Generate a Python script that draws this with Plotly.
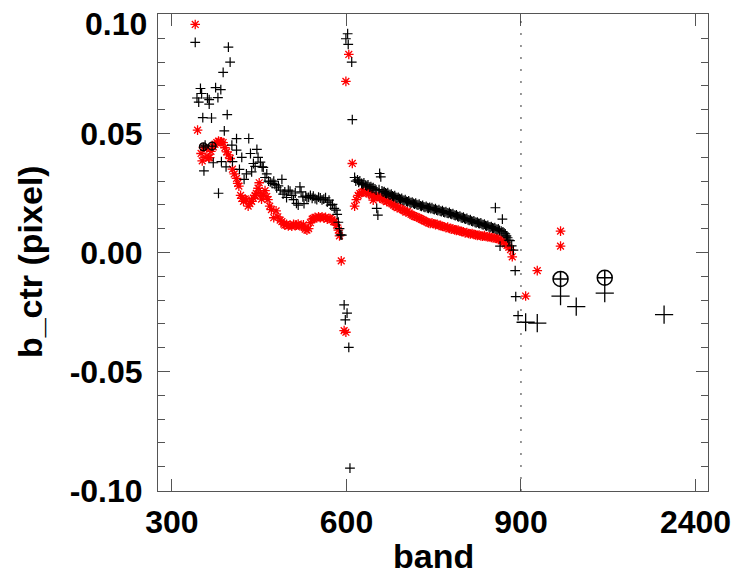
import plotly.graph_objects as go

# ---------------- data ----------------
# black "+" series (VNIR), band (nm) and b_ctr (pixel)
black_band = [340, 343, 346, 349, 351, 353, 355, 357, 361, 364, 364, 368, 371, 375, 379, 380,
              384, 385, 388, 390, 393, 395, 397, 400, 403, 404, 411, 411, 416, 420, 424, 428,
              432, 435, 437, 440, 443, 446, 448, 452, 455, 457, 460, 463, 466, 469, 472, 475,
              477, 480, 483, 486, 489, 491, 494, 497, 500, 503, 506, 509, 512, 514, 517, 520,
              522, 525, 527, 530, 532, 535, 538, 541, 543, 546, 549, 552, 555, 558, 561, 564,
              567, 570, 573, 576, 579, 582, 584, 586, 588, 590, 592,
              596, 598, 599, 601, 602, 603, 604, 606, 609, 610,
              614, 616, 619, 621, 623, 626, 628, 630, 633, 635, 637, 640, 642, 644, 646, 649,
              651, 652, 654, 656, 657, 659, 661, 663, 665, 667, 669, 671, 673, 675, 677, 679,
              681, 683, 685, 687, 689, 691, 693, 695, 697, 699, 701, 703, 705, 707, 709, 711,
              713, 715, 717, 719, 721, 723, 725, 727, 729, 731, 733, 735, 737, 739, 741, 743,
              745, 747, 749, 751, 753, 755, 757, 759, 761, 763, 765, 767, 769, 771, 773, 775,
              777, 779, 781, 783, 785, 787, 789, 791, 793, 795, 797, 799, 801, 803, 805, 807,
              809, 811, 813, 815, 817, 819, 821, 823, 825, 827, 829, 831, 833, 835, 837, 839,
              841, 843, 845, 847, 849, 851, 853, 855, 856, 857, 859, 861, 863, 864, 866, 868,
              869, 871, 873, 875, 877, 879, 881, 884, 887, 890, 891, 895]
black_val = [0.0883, 0.0649, 0.0632, 0.0689, 0.0668, 0.0567, 0.0343, 0.0451, 0.0649, 0.0642, 0.0623, 0.0565, 0.0377, 0.0693, 0.0651, 0.0249,
             0.0684, 0.0382, 0.0757, 0.0511, 0.0360, 0.0579, 0.0863, 0.0800, 0.0451, 0.0382, 0.0478, 0.0430, 0.0349, 0.0400, 0.0307, 0.0330,
             0.0479, 0.0416, 0.0339, 0.0374, 0.0362, 0.0433, 0.0400, 0.0380, 0.0360, 0.0358, 0.0315, 0.0330, 0.0300, 0.0297, 0.0290, 0.0300,
             0.0286, 0.0272, 0.0280, 0.0262, 0.0307, 0.0245, 0.0255, 0.0231, 0.0262, 0.0258, 0.0240, 0.0222, 0.0250, 0.0206, 0.0199, 0.0276,
             0.0255, 0.0234, 0.0205, 0.0237, 0.0230, 0.0232, 0.0240, 0.0228, 0.0237, 0.0226, 0.0222, 0.0233, 0.0229, 0.0221, 0.0224, 0.0230,
             0.0212, 0.0220, 0.0199, 0.0202, 0.0185, 0.0178, 0.0160, 0.0127, 0.0100, 0.0074, 0.0073,
             -0.0220, -0.0283, 0.0898, -0.0255, 0.0919, 0.0874, -0.0399, -0.0906, 0.0800, 0.0558,
             0.0315, 0.0300, 0.0305, 0.0295, 0.0301, 0.0290, 0.0286, 0.0292, 0.0283, 0.0279, 0.0284, 0.0275, 0.0277, 0.0270, 0.0272, 0.0267,
             0.0262, 0.0185, 0.0157, 0.0264, 0.0332, 0.0318, 0.0259, 0.0254, 0.0256, 0.0250, 0.0247, 0.0251, 0.0244, 0.0241, 0.0245, 0.0238,
             0.0235, 0.0239, 0.0231, 0.0228, 0.0232, 0.0226, 0.0223, 0.0227, 0.0220, 0.0218, 0.0222, 0.0215, 0.0213, 0.0217, 0.0210, 0.0208,
             0.0212, 0.0206, 0.0203, 0.0207, 0.0201, 0.0199, 0.0203, 0.0196, 0.0194, 0.0198, 0.0192, 0.0190, 0.0194, 0.0188, 0.0186, 0.0190,
             0.0184, 0.0188, 0.0182, 0.0180, 0.0184, 0.0178, 0.0176, 0.0180, 0.0174, 0.0172, 0.0176, 0.0170, 0.0168, 0.0172, 0.0166, 0.0164,
             0.0168, 0.0162, 0.0160, 0.0163, 0.0157, 0.0155, 0.0158, 0.0152, 0.0150, 0.0153, 0.0147, 0.0145, 0.0148, 0.0142, 0.0140, 0.0143,
             0.0137, 0.0135, 0.0138, 0.0132, 0.0130, 0.0133, 0.0127, 0.0125, 0.0128, 0.0122, 0.0121, 0.0124, 0.0118, 0.0116, 0.0119, 0.0113,
             0.0111, 0.0114, 0.0108, 0.0106, 0.0109, 0.0103, 0.0101, 0.0104, 0.0188, 0.0098, 0.0096, 0.0099, 0.0093, 0.0027, 0.0090, 0.0140,
             0.0087, 0.0082, 0.0078, 0.0070, 0.0062, 0.0052, 0.0050, 0.0028, 0.0010, -0.0076, -0.0185, -0.0265]

# red "*" series
red_band = [340, 344, 350, 352, 354, 357, 360, 363, 365, 367, 371, 374, 377, 380, 383, 385,
            388, 391, 394, 397, 400, 404, 407, 411, 413, 415, 418, 420, 423, 426, 428, 431,
            434, 437, 440, 443, 445, 448, 450, 452, 454, 457, 460, 463, 465, 468, 471, 475,
            479, 482, 486, 489, 492, 494, 497, 500, 503, 506, 509, 512, 514, 517, 520, 523,
            526, 529, 532, 535, 538, 541, 543, 546, 549, 552, 555, 558, 561, 564, 567, 570,
            572, 575, 578, 580, 583, 586, 588, 591,
            596, 599, 599, 604, 610,
            614, 617, 620, 623, 626, 629, 632, 635, 638, 641, 644, 646, 648, 651, 654, 657,
            660, 663, 666, 669, 672, 675, 678, 681, 684, 687, 690, 693, 696, 699, 702, 705,
            708, 711, 714, 717, 720, 723, 726, 729, 732, 735, 738, 741, 744, 747, 750, 753,
            756, 759, 762, 765, 768, 771, 774, 777, 780, 783, 786, 789, 792, 795, 798, 801,
            804, 807, 810, 813, 816, 819, 822, 825, 828, 831, 834, 837, 840, 843, 846, 849,
            852, 855, 858, 861, 864, 867, 870, 873, 876, 879, 882, 885]
red_val = [0.0958, 0.0514, 0.0416, 0.0385, 0.0441, 0.0400, 0.0435, 0.0398, 0.0399, 0.0425, 0.0444, 0.0455, 0.0462, 0.0468, 0.0465, 0.0465,
           0.0462, 0.0440, 0.0423, 0.0410, 0.0395, 0.0350, 0.0330, 0.0311, 0.0290, 0.0279, 0.0240, 0.0227, 0.0215, 0.0225, 0.0220, 0.0195,
           0.0205, 0.0215, 0.0228, 0.0240, 0.0248, 0.0270, 0.0293, 0.0250, 0.0224, 0.0240, 0.0260, 0.0235, 0.0222, 0.0195, 0.0180, 0.0146,
           0.0175, 0.0150, 0.0136, 0.0130, 0.0120, 0.0115, 0.0118, 0.0112, 0.0115, 0.0110, 0.0118, 0.0113, 0.0115, 0.0120, 0.0112, 0.0110,
           0.0116, 0.0098, 0.0094, 0.0100, 0.0125, 0.0140, 0.0143, 0.0148, 0.0145, 0.0150, 0.0146, 0.0150, 0.0145, 0.0148, 0.0140, 0.0143,
           0.0143, 0.0138, 0.0130, 0.0129, 0.0115, 0.0094, 0.0070, -0.0035,
           -0.0328, -0.0335, 0.0719, 0.0832, 0.0374,
           0.0195, 0.0222, 0.0240, 0.0248, 0.0252, 0.0255, 0.0256, 0.0250, 0.0247, 0.0252, 0.0238, 0.0220, 0.0232, 0.0238, 0.0234, 0.0229,
           0.0231, 0.0222, 0.0220, 0.0214, 0.0217, 0.0208, 0.0205, 0.0199, 0.0194, 0.0188, 0.0190, 0.0184, 0.0180, 0.0176, 0.0170, 0.0172,
           0.0166, 0.0160, 0.0156, 0.0152, 0.0150, 0.0147, 0.0143, 0.0139, 0.0136, 0.0132, 0.0129, 0.0124, 0.0122, 0.0125, 0.0121, 0.0117,
           0.0119, 0.0114, 0.0113, 0.0110, 0.0108, 0.0104, 0.0107, 0.0101, 0.0098, 0.0100, 0.0095, 0.0093, 0.0094, 0.0090, 0.0088, 0.0087,
           0.0082, 0.0084, 0.0080, 0.0078, 0.0080, 0.0076, 0.0074, 0.0072, 0.0073, 0.0070, 0.0068, 0.0071, 0.0067, 0.0065, 0.0066, 0.0063,
           0.0061, 0.0062, 0.0059, 0.0055, 0.0056, 0.0050, 0.0044, 0.0036, 0.0030, 0.0022, 0.0012, -0.0018]

# SWIR bands (large symbols)
swir_black_band = [940, 1040, 1240, 1375, 1620, 2130]
swir_black_val = [-0.0293, -0.0297, -0.0183, -0.0227, -0.0171, -0.0261]
swir_red_band = [940, 1040, 1240, 1240]
swir_red_val = [-0.0183, -0.0076, 0.0090, 0.0027]
circ_big_band = [1240, 1620]
circ_big_val = [-0.0111, -0.0106]
circ_small_band = [354, 369]
circ_small_val = [0.0444, 0.0447]

tick_bands = [300, 600, 900, 2400]
tick_labels = ["300", "600", "900", "2400"]
y_ticks = [-0.10, -0.05, 0.00, 0.05, 0.10]
y_labels = ["-0.10", "-0.05", "0.00", "0.05", "0.10"]


# axis is linear up to 900 nm, then 900-2400 nm compressed into 300 units
def to_axis(b):
    return b if b <= 900 else 900 + (b - 900) * 300.0 / 1500.0


def tx(lst):
    return [to_axis(b) for b in lst]


fig = go.Figure()
fig.add_trace(go.Scatter(x=tx(red_band), y=red_val, mode="markers",
                         marker=dict(symbol="asterisk", size=8, color="red",
                                     line=dict(color="red", width=1.3))))
fig.add_trace(go.Scatter(x=tx(black_band), y=black_val, mode="markers",
                         marker=dict(symbol="cross-thin", size=7, color="black",
                                     line=dict(color="black", width=1.2))))
fig.add_trace(go.Scatter(x=tx(swir_red_band), y=swir_red_val, mode="markers",
                         marker=dict(symbol="asterisk", size=8, color="red",
                                     line=dict(color="red", width=1.3))))
fig.add_trace(go.Scatter(x=tx(swir_black_band), y=swir_black_val, mode="markers",
                         marker=dict(symbol="cross-thin", size=13, color="black",
                                     line=dict(color="black", width=1.3))))
fig.add_trace(go.Scatter(x=tx(circ_big_band), y=circ_big_val, mode="markers",
                         marker=dict(symbol="circle-cross-open", size=15, color="black",
                                     line=dict(color="black", width=1.5))))
fig.add_trace(go.Scatter(x=tx(circ_small_band), y=circ_small_val, mode="markers",
                         marker=dict(symbol="circle-cross-open", size=8, color="black",
                                     line=dict(color="black", width=1.2))))

fig.add_shape(type="line", xref="x", yref="paper", x0=900, x1=900, y0=0, y1=1,
              line=dict(color="#333333", width=1, dash="2px,10px"))

tick_font = dict(family="Liberation Sans, Arial, sans-serif", size=32, color="black", weight="bold")

# top label drawn separately (placed just below its tick, as in the reference)
y_ticktext = [lab if v != 0.10 else "" for v, lab in zip(y_ticks, y_labels)]

fig.update_xaxes(range=[276, 1221.5], tickvals=tx(tick_bands), ticktext=tick_labels,
                 ticks="inside", ticklen=12, tickcolor="#555555", tickwidth=1,
                 showline=True, linecolor="#555555", linewidth=1, mirror="ticks",
                 showgrid=False, zeroline=False, tickfont=tick_font, ticklabelstandoff=3,
                 automargin=False, ticklabeloverflow="allow")
fig.update_yaxes(range=[-0.1002, 0.1002], tickvals=y_ticks, ticktext=y_ticktext,
                 ticks="inside", ticklen=12, tickcolor="#555555", tickwidth=1,
                 minor=dict(dtick=0.01, tick0=0, ticks="inside", ticklen=7, tickcolor="#555555"),
                 showline=True, linecolor="#555555", linewidth=1, mirror="ticks",
                 showgrid=False, zeroline=False, tickfont=tick_font, ticklabelstandoff=8,
                 automargin=False, ticklabeloverflow="allow")

fig.add_annotation(text=y_labels[-1], xref="paper", yref="y", x=0, y=y_ticks[-1],
                   xanchor="right", yanchor="middle", xshift=-9, yshift=-10,
                   showarrow=False, font=tick_font)

title_font = dict(family="Liberation Sans, Arial, sans-serif", size=34, color="black", weight="bold")
fig.add_annotation(text="b_ctr (pixel)", xref="paper", yref="paper", x=-0.2327, y=0.48,
                   textangle=-90, showarrow=False, xanchor="center", yanchor="middle", font=title_font)
fig.add_annotation(text="band", xref="paper", yref="paper", x=0.5, y=-0.136,
                   showarrow=False, xanchor="center", yanchor="middle", font=title_font)

fig.update_layout(width=736, height=577, margin=dict(l=158, r=28, t=14, b=86),
                  paper_bgcolor="white", plot_bgcolor="white", showlegend=False)

fig.write_html("out.html", config={"displayModeBar": False},
               post_script="document.body.style.margin='0';document.body.style.overflow='hidden';")
